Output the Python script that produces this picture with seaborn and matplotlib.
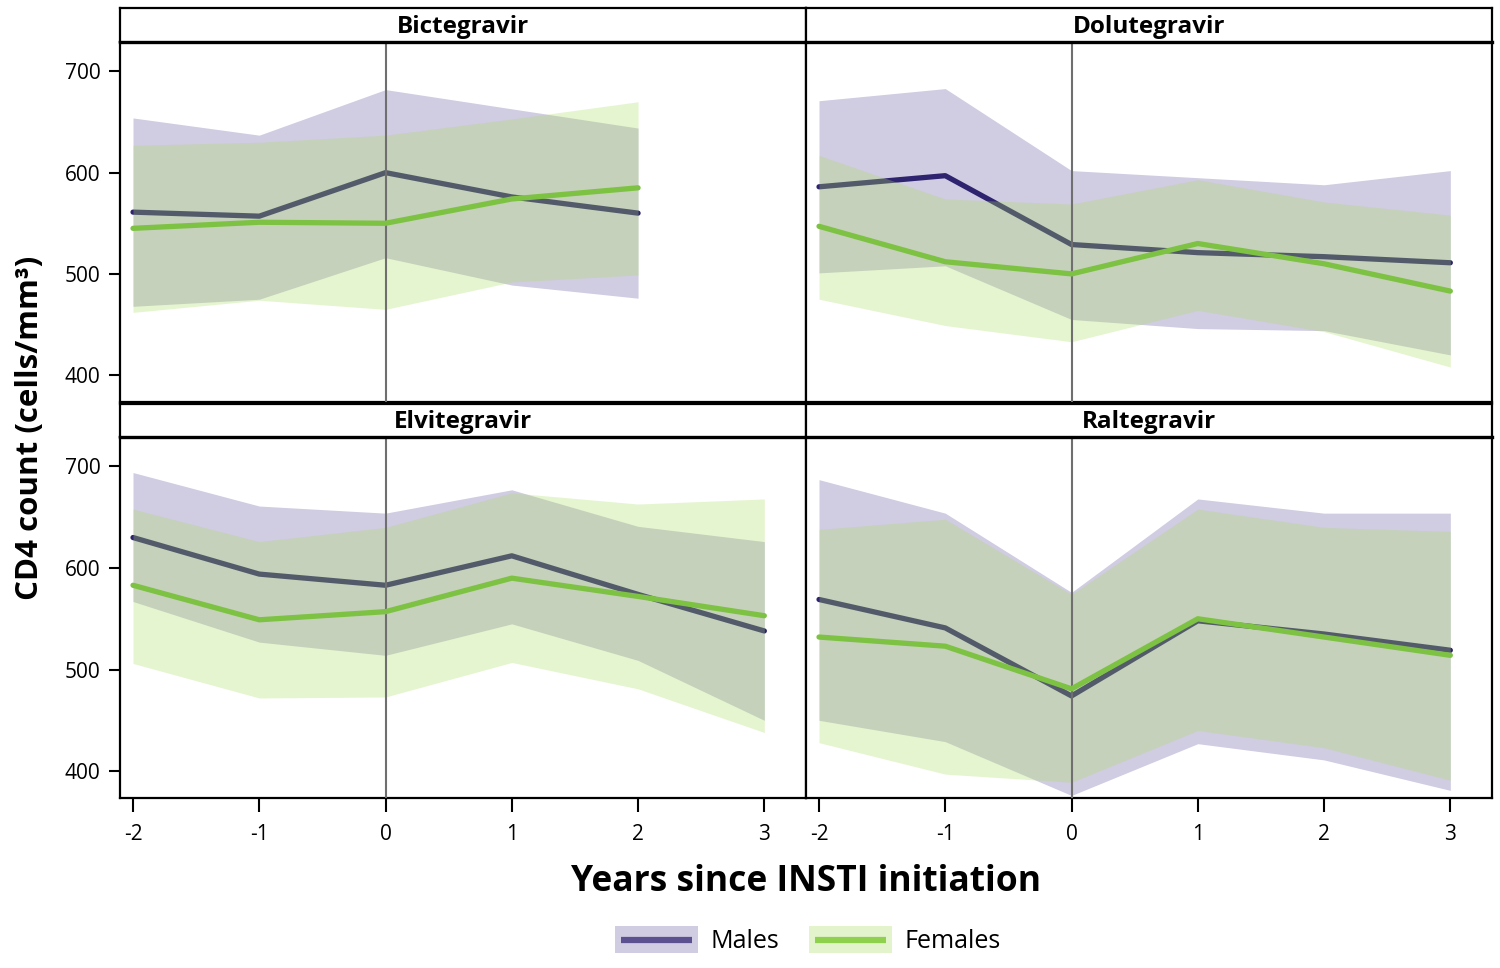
import numpy as np
import pandas as pd
import matplotlib
matplotlib.use("Agg")
import matplotlib.pyplot as plt
import seaborn as sns
from matplotlib.patches import Rectangle
from matplotlib.lines import Line2D
from matplotlib.legend_handler import HandlerBase

# ---------------- data ----------------
years = [-2, -1, 0, 1, 2, 3]
drugs = ["Bictegravir", "Dolutegravir", "Elvitegravir", "Raltegravir"]

bic_m = [561, 557, 600, 576, 560, np.nan]
bic_m_lo = [468, 475, 516, 489, 476, np.nan]
bic_m_hi = [654, 637, 682, 663, 644, np.nan]
bic_f = [545, 551, 550, 574, 585, np.nan]
bic_f_lo = [462, 474, 465, 492, 499, np.nan]
bic_f_hi = [627, 630, 637, 653, 670, np.nan]

dol_m = [586, 597, 529, 521, 517, 511]
dol_m_lo = [501, 508, 455, 446, 444, 420]
dol_m_hi = [671, 683, 602, 595, 588, 602]
dol_f = [547, 512, 500, 530, 510, 483]
dol_f_lo = [475, 449, 433, 464, 443, 408]
dol_f_hi = [617, 574, 569, 593, 571, 558]

elv_m = [630, 594, 583, 612, 574, 538]
elv_m_lo = [567, 527, 514, 545, 509, 450]
elv_m_hi = [694, 661, 654, 677, 641, 626]
elv_f = [583, 549, 557, 590, 572, 553]
elv_f_lo = [506, 472, 473, 507, 481, 438]
elv_f_hi = [658, 626, 640, 674, 663, 668]

ral_m = [569, 541, 474, 548, 535, 519]
ral_m_lo = [450, 429, 376, 427, 411, 381]
ral_m_hi = [687, 654, 576, 668, 654, 654]
ral_f = [532, 523, 481, 550, 532, 514]
ral_f_lo = [428, 397, 389, 440, 423, 391]
ral_f_hi = [638, 648, 574, 658, 640, 636]

series = {
    "Bictegravir": (bic_m, bic_m_lo, bic_m_hi, bic_f, bic_f_lo, bic_f_hi),
    "Dolutegravir": (dol_m, dol_m_lo, dol_m_hi, dol_f, dol_f_lo, dol_f_hi),
    "Elvitegravir": (elv_m, elv_m_lo, elv_m_hi, elv_f, elv_f_lo, elv_f_hi),
    "Raltegravir": (ral_m, ral_m_lo, ral_m_hi, ral_f, ral_f_lo, ral_f_hi),
}

rows = []
for d, (m, mlo, mhi, f, flo, fhi) in series.items():
    for i, y in enumerate(years):
        rows.append(dict(drug=d, year=y, sex="Males", cd4=m[i], lo=mlo[i], hi=mhi[i]))
        rows.append(dict(drug=d, year=y, sex="Females", cd4=f[i], lo=flo[i], hi=fhi[i]))
df = pd.DataFrame(rows).dropna()

# ---------------- style ----------------
sns.set_theme(style="white")
plt.rcParams["font.family"] = ["Open Sans", "DejaVu Sans"]

male_fill = "#d0cce2"
male_line = "#2d236e"
fem_fill = "#acde62"
fem_fill_alpha = 0.3
fem_line = "#7dc242"

W, H = 1500, 968
fig = plt.figure(figsize=(W / 100, H / 100), dpi=100)

def fx(px):
    return px / W

def fy(py):
    return 1 - py / H

panels = {
    "Bictegravir": (120, 806, 42, 402, 8),
    "Dolutegravir": (806, 1492, 42, 402, 8),
    "Elvitegravir": (120, 806, 437, 798, 404),
    "Raltegravir": (806, 1492, 437, 798, 404),
}

for idx, d in enumerate(drugs):
    x0, x1, y0, y1, ys = panels[d]
    ax = fig.add_axes([fx(x0), fy(y1), fx(x1 - x0), (y1 - y0) / H])
    sub = df[df.drug == d]
    sm = sub[sub.sex == "Males"]
    sf = sub[sub.sex == "Females"]
    ax.fill_between(sm.year, sm.lo, sm.hi, color=male_fill, lw=0, zorder=1)
    sns.lineplot(data=sm, x="year", y="cd4", color=male_line, lw=3.8, ax=ax,
                 zorder=3, legend=False, errorbar=None)
    ax.fill_between(sf.year, sf.lo, sf.hi, color=fem_fill, alpha=fem_fill_alpha,
                    lw=0, zorder=4)
    ax.axvline(0, color="#6f6f6f", lw=1.5, zorder=4.5)
    sns.lineplot(data=sf, x="year", y="cd4", color=fem_line, lw=3.8, ax=ax,
                 zorder=5, legend=False, errorbar=None)

    ax.set_xlim(-2.103, 3.33)
    ax.set_ylim(373.5, 729)
    ax.set_xlabel("")
    ax.set_ylabel("")
    for sp in ax.spines.values():
        sp.set_color("black")
        sp.set_linewidth(1.6)

    left = idx % 2 == 0
    bottom = idx >= 2
    ax.set_yticks([400, 500, 600, 700])
    ax.set_xticks(years)
    ax.set_xticklabels([str(y) for y in years])
    ax.tick_params(axis="y", which="both", left=left, labelleft=left,
                   length=8, width=1.5, color="black", labelcolor="black",
                   labelsize=15, pad=6, direction="out")
    ax.tick_params(axis="x", which="both", bottom=bottom, labelbottom=bottom,
                   length=10, width=1.5, color="black", labelcolor="black",
                   labelsize=15, pad=9, direction="out")

    # strip
    sax = fig.add_axes([fx(x0), fy(y0), fx(x1 - x0), (y0 - ys) / H])
    sax.set_xticks([])
    sax.set_yticks([])
    sax.set_facecolor("white")
    for sp in sax.spines.values():
        sp.set_color("black")
        sp.set_linewidth(1.6)
    sax.spines["bottom"].set_linewidth(2.4)
    sax.text(0.5, 0.45, d, ha="center", va="center", fontsize=17.5,
             fontweight="bold", color="black", transform=sax.transAxes)

fig.text(fx(30), fy(428), "CD4 count (cells/mm³)", rotation=90, ha="center",
         va="center", fontsize=22.5, fontweight="bold", color="black")
fig.text(fx(806), fy(882), "Years since INSTI initiation", ha="center",
         va="center", fontsize=25.5, fontweight="bold", color="black")


class BandLineHandler(HandlerBase):
    def __init__(self, fill, line):
        super().__init__()
        self.fill = fill
        self.line = line

    def create_artists(self, legend, orig_handle, xdescent, ydescent, width,
                       height, fontsize, trans):
        rect = Rectangle((-xdescent, -ydescent), width, height,
                         facecolor=self.fill, edgecolor="none", transform=trans)
        inset = width * 0.07
        yc = -ydescent + height / 2
        ln = Line2D([-xdescent + inset, -xdescent + width - inset], [yc, yc],
                    color=self.line, lw=4.5, solid_capstyle="butt",
                    transform=trans)
        return [rect, ln]


h_m = Line2D([], [])
h_f = Line2D([], [], ls="--")
leg = fig.legend([h_m, h_f], ["Males", "Females"],
                 handler_map={h_m: BandLineHandler(male_fill, "#5b5191"),
                              h_f: BandLineHandler("#e3f3cc", "#8fd14f")},
                 loc="center", bbox_to_anchor=(fx(808), fy(940)), ncol=2,
                 frameon=False, fontsize=18, handlelength=3.3, handleheight=1.3,
                 columnspacing=1.2, handletextpad=0.5)
for t in leg.get_texts():
    t.set_color("black")

fig.savefig("out.png", dpi=100)
